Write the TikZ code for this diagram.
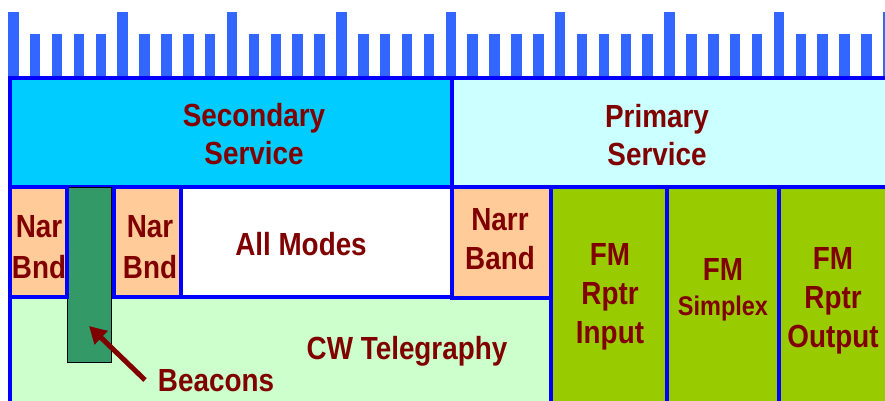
\documentclass[tikz,border=0pt]{standalone}
\usepackage{fontspec}
\newfontfamily\labfont{Liberation Sans}[FakeStretch=0.87]
\usetikzlibrary{arrows.meta}
\definecolor{tickblue}{HTML}{3366FF}
\definecolor{edgeblue}{HTML}{0000FF}
\definecolor{secfill}{HTML}{00CCFF}
\definecolor{primfill}{HTML}{CCFFFF}
\definecolor{narfill}{HTML}{FFCC99}
\definecolor{cwfill}{HTML}{CCFFCC}
\definecolor{fmfill}{HTML}{99CC00}
\definecolor{beaconfill}{HTML}{339966}
\definecolor{labred}{HTML}{800000}
\begin{document}
\begin{tikzpicture}[x=1pt,y=-1pt,
  band/.style={draw=edgeblue, line width=3.2pt, anchor=north west, inner sep=0pt, outer sep=0pt},
  lab/.style={text=labred, font=\labfont\bfseries\fontsize{32}{39}\selectfont, align=center, inner sep=0pt, anchor=base},
  tickbar/.style={fill=tickblue, draw=none},
  pointer/.style={draw=labred, line width=5pt, -{Triangle[length=17pt,width=18pt]}}
]
\useasboundingbox (0,0) rectangle (885,400);
% ruler ticks
\foreach \i in {0,...,40}{
  \pgfmathsetmacro{\tx}{8+21.875*\i}
  \pgfmathsetmacro{\ty}{mod(\i,5)==0 ? 12 : 34}
  \fill[tickbar] (\tx,\ty) rectangle ++(10.5,66);
}
% service bands
\node[band, fill=secfill, minimum width=442pt, minimum height=109pt] (sec) at (10,78) {};
\node[band, fill=primfill, minimum width=440pt, minimum height=109pt] (prim) at (452,78) {};
% lower area
\node[band, fill=cwfill, minimum width=541pt, minimum height=115pt] (cw) at (10,297) {};
\node[draw=black, line width=1pt, fill=beaconfill, anchor=north west, inner sep=0pt, minimum width=44pt, minimum height=175pt] (bcn) at (67,187) {};
\node[band, fill=narfill, minimum width=57pt, minimum height=110pt] (nb1) at (10,187) {};
\node[band, fill=narfill, minimum width=67pt, minimum height=110pt] (nb2) at (114,187) {};
\node[band, fill=white, minimum width=271pt, minimum height=110pt] (allm) at (181,187) {};
\node[band, fill=narfill, minimum width=99pt, minimum height=111pt] (narr) at (452,187) {};
\node[band, fill=fmfill, minimum width=116pt, minimum height=220pt] (fm1) at (551,187) {};
\node[band, fill=fmfill, minimum width=112pt, minimum height=220pt] (fm2) at (667,187) {};
\node[band, fill=fmfill, minimum width=115pt, minimum height=220pt] (fm3) at (779,187) {};
% labels (anchor = baseline of last line)
\node[lab] (sectxt) at (254,164) {Secondary\\[-1pt]Service};
\node[lab] (primtxt) at (657,165) {Primary\\[-1pt]Service};
\node[lab] (nb1txt) at (39,278) {Nar\\[2pt]Bnd};
\node[lab] (nb2txt) at (150,278) {Nar\\[2pt]Bnd};
\node[lab] (allmtxt) at (301,255) {All Modes};
\node[lab] (narrtxt) at (500,269) {Narr\\Band};
\node[lab] (fm1txt) at (610,343) {FM\\Rptr\\Input};
\node[lab] (fm2txt) at (723,315) {FM\\[-4pt]{\fontsize{27}{35}\selectfont Simplex}};
\node[lab] (fm3txt) at (833,347) {FM\\Rptr\\Output};
\node[lab] (cwtxt) at (407,359) {CW Telegraphy};
\node[lab] (bcntxt) at (216,391) {Beacons};
% arrow
\coordinate (btail) at (145,380);
\coordinate (btip) at (89,326);
\draw[pointer] (btail) -- (btip);
\end{tikzpicture}
\end{document}
